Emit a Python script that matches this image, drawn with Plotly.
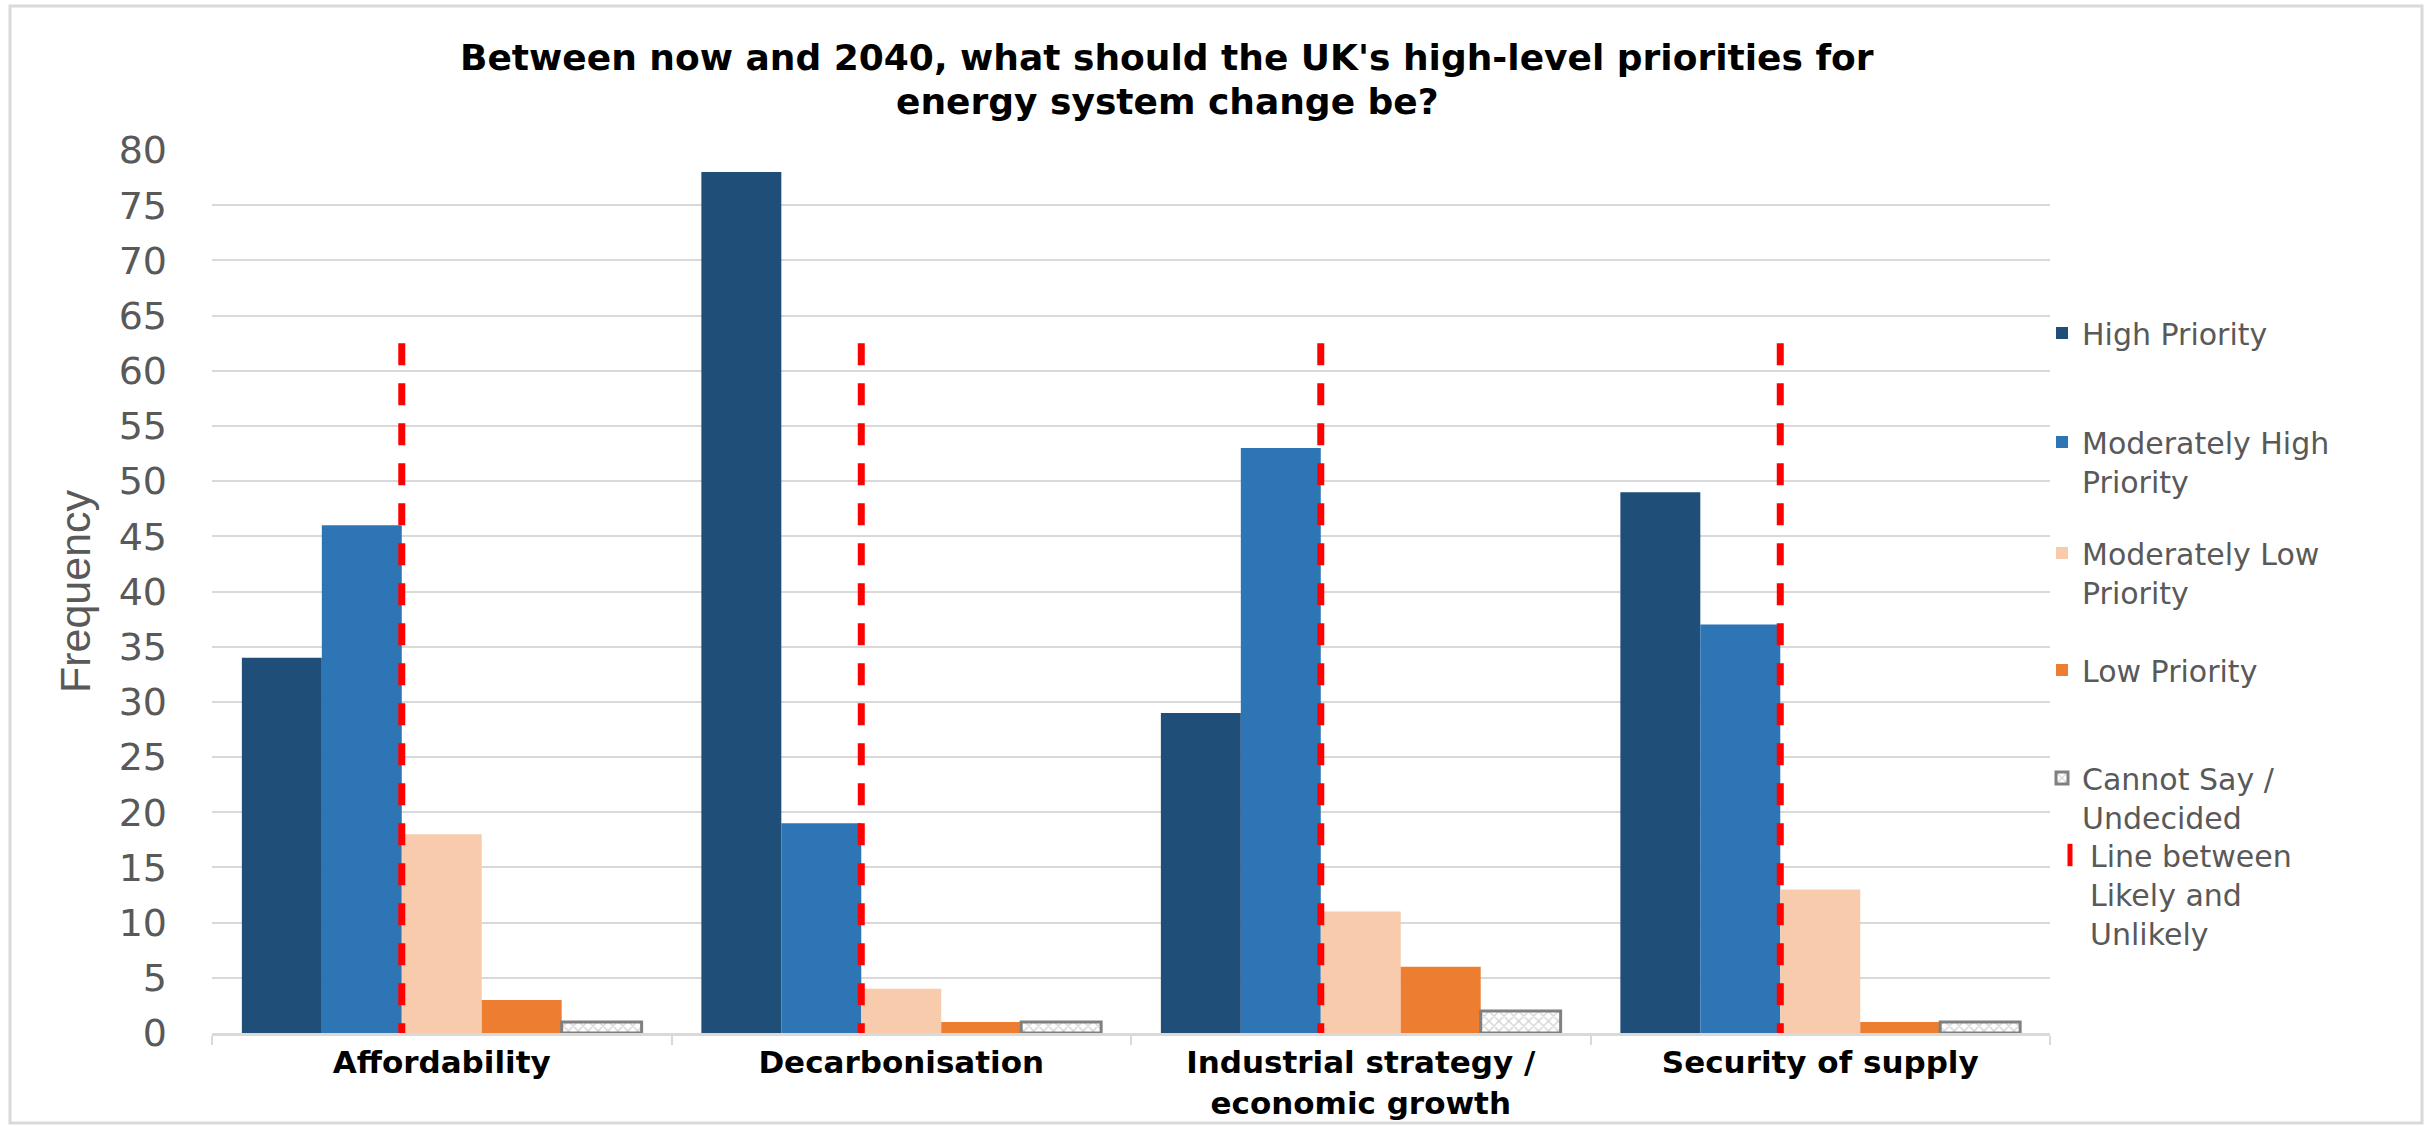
import plotly.graph_objects as go

# ---------------- data ----------------
categories = ["Affordability", "Decarbonisation",
              "Industrial strategy /<br>economic growth", "Security of supply"]
series_names = ["High Priority", "Moderately High<br>Priority",
                "Moderately Low<br>Priority", "Low Priority",
                "Cannot Say /<br>Undecided"]
high_priority = [34, 78, 29, 49]
moderately_high = [46, 19, 53, 37]
moderately_low = [18, 4, 11, 13]
low_priority = [3, 1, 6, 1]
cannot_say = [1, 1, 2, 1]
likely_line_top = [62.5, 62.5, 62.5, 62.5]
line_name = "Line between<br>Likely and<br>Unlikely"
y_tick_values = list(range(0, 81, 5))

title_lines = ["Between now and 2040, what should the UK's high-level priorities for",
               "energy system change be?"]

# ---------------- style ----------------
colors = ["#1F4E79", "#2E75B6", "#F8CBAD", "#ED7D31", "#FFFFFF"]
grey_text = "#595959"
grid_col = "#D9D9D9"
BARGAP = 0.13

series_values = [high_priority, moderately_high, moderately_low, low_priority, cannot_say]
xpos = list(range(len(categories)))

fig = go.Figure()

legend_centers_px = [333, 461.5, 572.5, 670, 797.5, 894]
PLOT_L, PLOT_R, PLOT_T, PLOT_B = 212, 2050, 150, 1033
W, H = 2425, 1126


def py2paper(py):
    return (PLOT_B - py) / (PLOT_B - PLOT_T)


def px2paper(px):
    return (px - PLOT_L) / (PLOT_R - PLOT_L)


legend_ids = ["legend"] + [f"legend{i}" for i in range(2, 7)]

for k, (name, vals, col) in enumerate(zip(series_names, series_values, colors)):
    marker = dict(color=col, line=dict(width=0))
    if k == 4:
        marker = dict(color="#FFFFFF",
                      line=dict(color="#808080", width=3),
                      pattern=dict(shape="x", fgcolor="#A6A6A6", bgcolor="#FFFFFF",
                                   size=7, solidity=0.35))
    fig.add_trace(go.Bar(x=xpos, y=vals, name=name, marker=marker,
                         legend=legend_ids[k], hoverinfo="y+name"))

# dashed cutoff line between 2nd and 3rd bar of each group
n_series = len(series_values)
bar_w = (1 - BARGAP) / n_series
lx, ly = [], []
for i, top in zip(xpos, likely_line_top):
    xb = i - bar_w / 2
    lx += [xb, xb, None]
    ly += [top, 0, None]
fig.add_trace(go.Scatter(x=lx, y=ly, mode="lines", showlegend=False,
                         line=dict(color="#FF0000", width=7, dash="22px,18px"),
                         hoverinfo="skip"))
# legend entry for the line (vertical red tick)
fig.add_trace(go.Scatter(x=[None], y=[None], mode="markers", name=line_name,
                         legend=legend_ids[5],
                         marker=dict(symbol="line-ns", size=24,
                                     line=dict(color="#FF0000", width=8))))

layout_legends = {}
for j, (lid, cy) in enumerate(zip(legend_ids, legend_centers_px)):
    layout_legends[lid] = dict(
        x=px2paper(2042 if j < 5 else 2050), xanchor="left", y=py2paper(cy), yanchor="middle",
        font=dict(family="DejaVu Sans", size=30, color=grey_text),
        bgcolor="rgba(0,0,0,0)", valign="top", itemwidth=30,
        tracegroupgap=0)

annotations = []
for txt, cy in zip(title_lines, [58, 102]):
    annotations.append(dict(text=f"<b>{txt}</b>", xref="paper", yref="paper",
                            x=px2paper(1167), y=py2paper(cy), xanchor="center",
                            yanchor="middle", showarrow=False,
                            font=dict(family="DejaVu Sans", size=36, color="#000000")))

fig.update_layout(
    width=W, height=H,
    margin=dict(l=PLOT_L, r=W - PLOT_R, t=PLOT_T, b=H - PLOT_B, autoexpand=False),
    paper_bgcolor="white", plot_bgcolor="white",
    barmode="group", bargap=BARGAP, bargroupgap=0,
    annotations=annotations,
    shapes=[dict(type="rect", xref="paper", yref="paper",
                 x0=px2paper(10), x1=px2paper(2422), y0=py2paper(1123), y1=py2paper(6),
                 line=dict(color=grid_col, width=3), fillcolor="rgba(0,0,0,0)",
                 layer="below")],
    **layout_legends,
)

fig.update_xaxes(
    range=[-0.5, len(categories) - 0.5],
    tickmode="array", tickvals=xpos, ticktext=[f"<b>{c}</b>" for c in categories],
    tickfont=dict(family="DejaVu Sans", size=31, color="#000000"),
    ticks="", showline=True, linecolor=grid_col, linewidth=3,
    showgrid=False, zeroline=False,
    minor=dict(tickmode="array", tickvals=[i - 0.5 for i in range(len(categories) + 1)],
               ticks="outside", ticklen=9, tickcolor=grid_col, tickwidth=2,
               showgrid=False),
)

fig.update_yaxes(
    range=[0, 80], tickmode="array", tickvals=y_tick_values,
    tickfont=dict(family="DejaVu Sans", size=38, color=grey_text),
    showgrid=True, gridcolor=grid_col, gridwidth=2, zeroline=False,
    showline=False, ticks="", ticklabelstandoff=44,
    title=dict(text="Frequency", standoff=14,
               font=dict(family="Liberation Sans", size=43, color=grey_text)),
)

fig.write_html("out.html")
